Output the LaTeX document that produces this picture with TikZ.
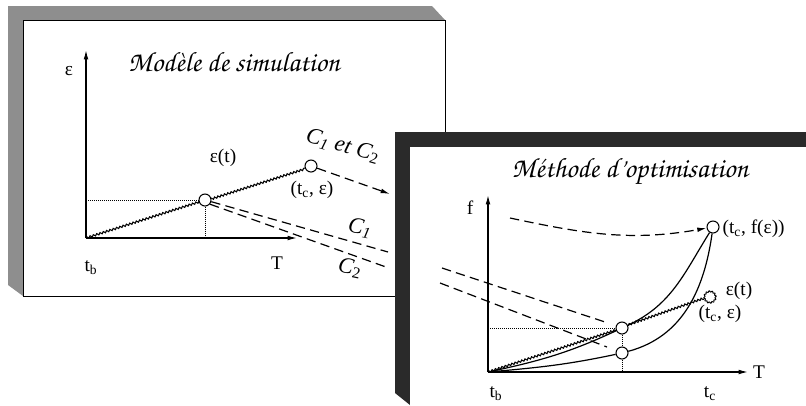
\documentclass[tikz,border=0pt]{standalone}
\usepackage[T1]{fontenc}
\usepackage{fontspec}
\setmainfont{Liberation Serif}
\usetikzlibrary{arrows.meta,decorations.pathmorphing}
\definecolor{cShadeA}{HTML}{8E8E8E}
\definecolor{cShadeB}{HTML}{2A2A2A}
\newcommand{\chanc}{\fontencoding{T1}\fontfamily{pzc}\fontseries{mb}\fontshape{it}\selectfont}

\begin{document}
\begin{tikzpicture}[
    x=0.75pt, y=-0.75pt,
    font=\fontsize{14.5}{17}\selectfont,
    axis/.style={-{Latex[length=7pt,width=3.5pt]}, line width=0.9pt},
    pt/.style={circle, draw, fill=white, line width=0.8pt, minimum size=9pt, inner sep=0pt},
    wave/.style={line width=0.8pt, decorate, decoration={snake, amplitude=0.7pt, segment length=2.6pt}},
    guide/.style={densely dotted, line width=0.5pt},
    dashline/.style={dash pattern=on 7pt off 4pt, line width=0.9pt},
    darr/.style={dashline, -{Latex[length=7pt,width=3.5pt]}},
    lbl/.style={inner sep=1pt},
    clbl/.style={inner sep=0pt, font=\fontsize{17}{19}\selectfont},
    ttl/.style={font=\chanc\fontsize{21}{24}\selectfont}
]
\useasboundingbox (0,0) rectangle (806,405);

% panel 1: simulation model
\fill[cShadeA] (8,285) -- (8,6) -- (432,6) -- (445,20) -- (23,20) -- (23,296) -- cycle;
\draw[fill=white, line width=0.6pt] (23,20) rectangle (445,296);

\node[ttl] (title1) at (234,62) {Modèle de simulation};

\coordinate (o1) at (86,238);
\coordinate (ytop1) at (86,50);
\coordinate (xend1) at (297,238);
\coordinate (h1) at (86,200);
\coordinate (v1) at (205,238);
\draw[axis] (o1) -- (ytop1);
\draw[axis] (o1) -- (xend1);

\node[lbl] (eps1) at (69,71) {ε};
\node[lbl] (tb1) at (91,268) {t\textsubscript{b}};
\node[lbl] (T1) at (277,263) {T};

\node[pt] (e1) at (205,200) {};
\node[pt] (c1) at (311,166) {};
\draw[guide] (h1) -- (e1);
\draw[guide] (e1) -- (v1);
\draw[wave] (o1) -- (e1) -- (c1);

\node[lbl] (et1) at (223,158) {ε(t)};
\node[lbl] (tc1) at (312,190) {(t\textsubscript{c}, ε)};
\node[clbl, rotate=-16] (cc) at (343,146) {\textit{C}\textsubscript{\textit{1}} \textit{et} \textit{C}\textsubscript{2}};

\coordinate (out1) at (390,194);
\coordinate (endA) at (388,252);
\coordinate (endB) at (386,267);
\draw[darr] (c1) -- (out1);
\draw[dashline] (e1.-15) -- (endA);
\draw[dashline] (e1.-40) -- (endB);
\node[clbl, rotate=-12] (lC1) at (360,228) {\textit{C}\textsubscript{\textit{1}}};
\node[clbl, rotate=-12] (lC2) at (350,268) {\textit{C}\textsubscript{2}};

% panel 2: optimisation method
\fill[cShadeB] (395,393) -- (395,132) -- (806,132) -- (806,147) -- (410,147) -- (410,405) -- cycle;
\fill[white] (410,147) rectangle (806,405);

\node[ttl] (title2) at (630,172) {Méthode d'optimisation};

\coordinate (o2) at (488,372);
\coordinate (ytop2) at (488,195);
\coordinate (xend2) at (748,372);
\coordinate (h2) at (488,328);
\coordinate (v2) at (622,372);
\draw[axis] (o2) -- (ytop2);
\draw[axis] (o2) -- (xend2);

\node[lbl] (f2) at (470,208) {f};
\node[lbl] (T2) at (759,372) {T};
\node[lbl] (tb2) at (496,394) {t\textsubscript{b}};
\node[lbl] (tc2) at (710,394) {t\textsubscript{c}};

\node[pt] (p2) at (622,328) {};
\node[pt] (q2) at (622,353) {};
\node[pt] (tf) at (713,227) {};
\node[circle, minimum size=9pt, inner sep=0pt] (ec) at (710,297) {};
\begin{scope}[shift={(ec.center)}, x=1pt, y=1pt]
  \draw[line width=0.7pt] plot[smooth cycle, domain=0:355, samples=72] (\x:{4.2+0.5*sin(12*\x)});
\end{scope}

\draw[guide] (h2) -- (p2);
\draw[guide] (p2) -- (q2);
\draw[guide] (q2) -- (v2);
\draw[wave] (o2) -- (p2) -- (ec);
\draw[line width=0.9pt] (o2) to[out=12, in=205] (p2) to[out=25, in=238] (tf);
\draw[line width=0.9pt] (o2) to[out=5, in=192] (q2) to[out=15, in=262] (tf);

\coordinate (from2) at (510,218);
\draw[darr] (from2) to[out=-12, in=190] (tf);

\coordinate (inA) at (442,268);
\coordinate (toA) at (608,323);
\coordinate (inB) at (440,283);
\coordinate (toB) at (607,347);
\draw[dashline] (inA) -- (toA);
\draw[dashline] (inB) -- (toB);

\node[lbl, anchor=west] (tf2) at (721,229) {(t\textsubscript{c}, f(ε))};
\node[lbl] (et2) at (739,291) {ε(t)};
\node[lbl] (tce2) at (720,314) {(t\textsubscript{c}, ε)};

\end{tikzpicture}
\end{document}
